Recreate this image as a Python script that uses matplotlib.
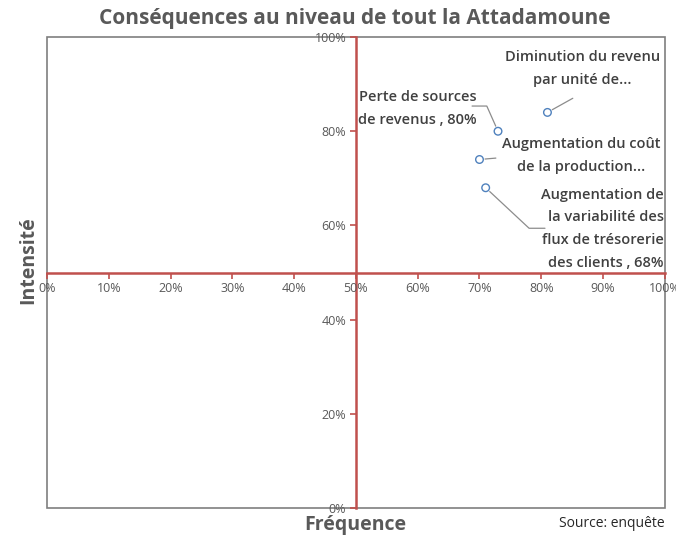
import numpy as np
import matplotlib.pyplot as plt
from matplotlib.patches import Rectangle
from matplotlib.ticker import PercentFormatter

plt.rcParams['font.family'] = ['Open Sans', 'DejaVu Sans']

# data
labels = ["Diminution du revenu\npar unité de...",
          "Perte de sources\nde revenus , 80%",
          "Augmentation du coût\nde la production...",
          "Augmentation de\nla variabilité des\nflux de trésorerie\ndes clients , 68%"]
frequence = [0.81, 0.73, 0.70, 0.71]
intensite = [0.84, 0.80, 0.74, 0.68]
x_ticks = np.arange(0, 1.01, 0.1)
y_ticks = np.arange(0, 1.01, 0.2)

red = "#C0504D"
gray_txt = "#404040"

fig = plt.figure(figsize=(6.76, 5.41), dpi=100)
ax = fig.add_axes([0.0695, 0.061, 0.914, 0.8705])
ax.set_xlim(0, 1)
ax.set_ylim(0, 1)

ax.spines['left'].set_position(('data', 0.5))
ax.spines['bottom'].set_position(('data', 0.5))
for s in ['left', 'bottom']:
    ax.spines[s].set_color(red)
    ax.spines[s].set_linewidth(1.8)
    ax.spines[s].set_zorder(1)
for s in ['top', 'right']:
    ax.spines[s].set_visible(False)

ax.add_patch(Rectangle((0, 0), 1, 1, transform=ax.transAxes, fill=False,
                       edgecolor="#7f7f7f", lw=1.2, clip_on=False, zorder=0))

ax.set_xticks(x_ticks)
ax.set_yticks(y_ticks)
ax.xaxis.set_major_formatter(PercentFormatter(1.0, decimals=0))
ax.yaxis.set_major_formatter(PercentFormatter(1.0, decimals=0))
ax.tick_params(axis='both', direction='out', length=4, width=1.2, color=red,
               labelsize=9, labelcolor="#595959", pad=3)

ax.scatter(frequence, intensite, s=30, facecolors='none', edgecolors="#4F81BD",
           linewidths=1.0, zorder=3)

lbl_kw = dict(fontsize=10.5, fontweight='semibold', color=gray_txt, linespacing=1.8)
line_kw = dict(arrowstyle='-', color='#8c8c8c', lw=0.9, shrinkA=0, shrinkB=4)

# label texts
ax.text(0.867, 0.934, labels[0], ha='center', va='center', **lbl_kw)
ax.text(0.600, 0.849, labels[1], ha='center', va='center', **lbl_kw)
ax.text(0.864, 0.749, labels[2], ha='center', va='center', **lbl_kw)
ax.text(0.998, 0.593, labels[3], ha='right', va='center', **lbl_kw)

# leader lines
ax.annotate("", xy=(frequence[0], intensite[0]), xytext=(0.851, 0.870),
            arrowprops=dict(**line_kw))
ax.annotate("", xy=(frequence[1], intensite[1]), xytext=(0.688, 0.8535),
            arrowprops=dict(**line_kw, connectionstyle="angle,angleA=0,angleB=114,rad=0"))
ax.annotate("", xy=(frequence[2], intensite[2]), xytext=(0.7265, 0.743),
            arrowprops=dict(**line_kw))
ax.annotate("", xy=(frequence[3], intensite[3]), xytext=(0.806, 0.594),
            arrowprops=dict(**line_kw, connectionstyle="angle,angleA=180,angleB=-43,rad=0"))

fig.text(0.525, 0.965, "Conséquences au niveau de tout la Attadamoune", ha='center', va='center',
         fontsize=15, fontweight='bold', color="#595959")
fig.text(0.525, 0.03, "Fréquence", ha='center', va='center', fontsize=14,
         fontweight='bold', color="#595959")
fig.text(0.042, 0.52, "Intensité", ha='center', va='center', rotation=90, fontsize=14,
         fontweight='bold', color="#595959")
fig.text(0.905, 0.033, "Source: enquête", ha='center', va='center', fontsize=10, color="#262626")

fig.savefig("out.png", dpi=100)
